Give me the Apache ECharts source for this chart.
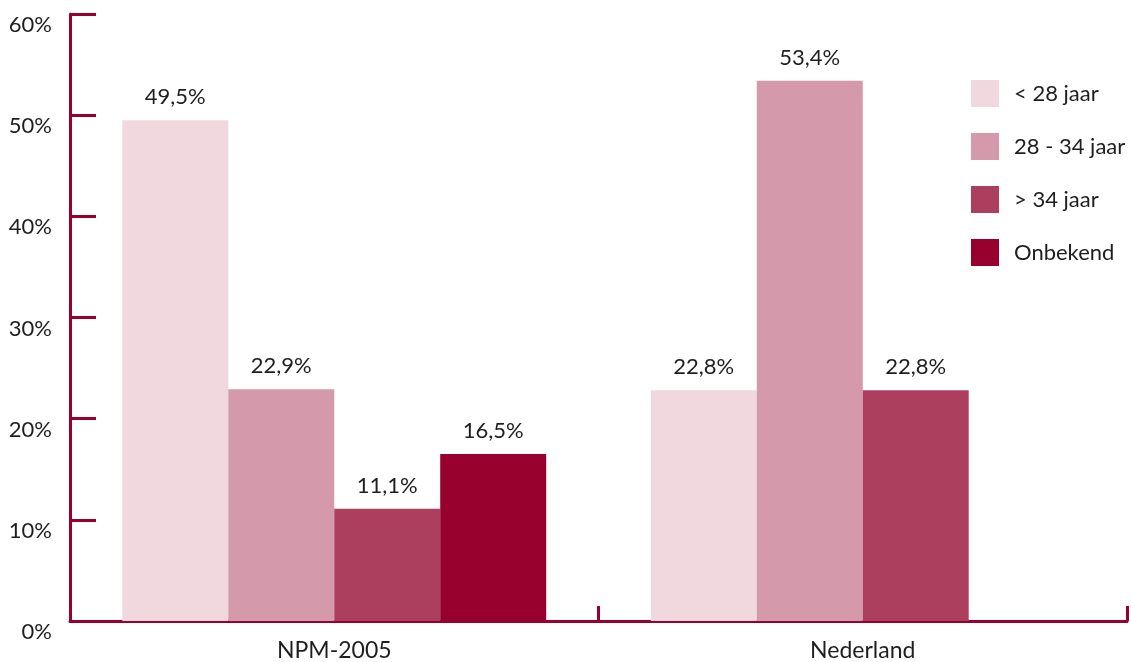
<!DOCTYPE html>
<html>
<head>
<meta charset="utf-8">
<script src="https://cdn.jsdelivr.net/npm/echarts@6/dist/echarts.min.js"></script>
<style>
  html, body { margin: 0; padding: 0; background: #fff; }
  #chart { width: 1131px; height: 662px; }
</style>
</head>
<body>
<div id="chart"></div>
<script>
// categories and series values
var categories = ['NPM-2005', 'Nederland'];
var seriesNames = ['< 28 jaar', '28 - 34 jaar', '> 34 jaar', 'Onbekend'];
var young = [49.5, 22.8];
var mid = [22.9, 53.4];
var old = [11.1, 22.8];
var unknown = [16.5, null];
var colors = ['#f0d8de', '#d499aa', '#ac3f5e', '#98002e'];

var axisColor = '#98002e';
var font = 'Lato, "Open Sans", sans-serif';

function pct(v) {
  return String(v).replace('.', ',') + '%';
}

function makeSeries(name, data, color) {
  return {
    name: name,
    type: 'bar',
    data: data,
    barGap: '0%',
    barCategoryGap: '19.8%',
    itemStyle: { color: color },
    label: {
      show: true,
      position: 'top',
      distance: 12,
      color: '#1e1e1e',
      fontFamily: font,
      fontSize: 22,
      formatter: function (p) { return pct(p.value); }
    }
  };
}

var chart = echarts.init(document.getElementById('chart'));
chart.setOption({
  animation: false,
  grid: { left: 70, right: 4, top: 14, bottom: 41 },
  legend: {
    orient: 'vertical',
    left: 966,
    top: 75,
    itemWidth: 28,
    itemHeight: 27,
    itemGap: 26,
    icon: 'rect',
    textStyle: { fontFamily: font, fontSize: 22, color: '#1e1e1e', padding: [0, 0, 0, 10] },
    data: seriesNames
  },
  xAxis: {
    type: 'category',
    data: categories,
    boundaryGap: true,
    axisLine: { show: true, lineStyle: { color: axisColor, width: 3 } },
    axisTick: { show: true, inside: true, interval: 0, alignWithLabel: false, length: 15, lineStyle: { color: axisColor, width: 3 } },
    axisLabel: { margin: 18, color: '#1e1e1e', fontFamily: font, fontSize: 23 }
  },
  yAxis: {
    type: 'value',
    min: 0,
    max: 60,
    interval: 10,
    splitLine: { show: false },
    axisLine: { show: true, lineStyle: { color: axisColor, width: 3 } },
    axisTick: { show: true, inside: true, length: 26, lineStyle: { color: axisColor, width: 3 } },
    axisLabel: {
      margin: 18,
      color: '#1e1e1e',
      fontFamily: font,
      fontSize: 22,
      verticalAlign: 'top',
      formatter: function (v) { return v + '%'; }
    }
  },
  series: [
    makeSeries(seriesNames[0], young, colors[0]),
    makeSeries(seriesNames[1], mid, colors[1]),
    makeSeries(seriesNames[2], old, colors[2]),
    makeSeries(seriesNames[3], unknown, colors[3])
  ]
});
</script>
</body>
</html>
